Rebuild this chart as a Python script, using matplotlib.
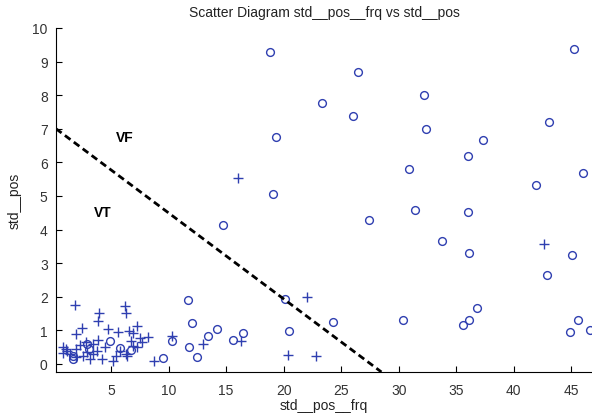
import matplotlib.pyplot as plt

plt.rcParams['font.family'] = ['Liberation Sans', 'DejaVu Sans']

# circles
circ_x = [18.8, 19.3, 45.2, 26.5, 23.3, 26.0, 32.2, 32.4, 37.3, 43.1, 36.0, 30.9, 46.0, 41.9,
          31.4, 36.0, 33.8, 36.1, 45.1, 42.9, 19.1, 27.4, 14.7, 20.1, 24.3, 20.5, 14.2, 16.5,
          15.6, 13.4, 12.5, 11.7, 12.0, 11.8, 10.3, 9.5, 4.9, 2.9, 5.8, 6.7, 3.1, 1.7, 1.7,
          30.4, 35.6, 36.1, 36.8, 44.9, 45.6, 46.6]
circ_y = [9.29, 6.76, 9.38, 8.69, 7.77, 7.38, 8.0, 6.99, 6.67, 7.2, 6.19, 5.80, 5.68, 5.33,
          4.58, 4.52, 3.66, 3.30, 3.24, 2.65, 5.06, 4.29, 4.14, 1.93, 1.25, 0.98, 1.04, 0.92,
          0.71, 0.83, 0.21, 1.90, 1.22, 0.50, 0.68, 0.18, 0.68, 0.60, 0.47, 0.42, 0.45, 0.24, 0.15,
          1.31, 1.16, 1.31, 1.67, 0.95, 1.31, 1.01]

# pluses
plus_x = [16.0, 42.6, 22.0, 20.4, 22.8, 16.3, 13.0, 10.3, 8.7, 1.9, 6.2, 6.3, 4.0, 3.9, 2.5,
          7.3, 4.7, 5.6, 6.6, 6.9, 2.0, 8.2, 7.5, 3.9, 2.8, 6.7, 3.4, 6.9, 4.5, 0.8, 1.2, 1.4,
          2.0, 2.6, 2.9, 3.4, 4.2, 5.4, 6.3, 6.4, 5.2, 5.8, 7.3, 7.7, 0.8, 1.1, 2.0, 2.3, 3.8, 3.2]
plus_y = [5.54, 3.57, 1.99, 0.27, 0.24, 0.68, 0.60, 0.83, 0.09, 1.76, 1.73, 1.52, 1.52, 1.28, 1.07,
          1.13, 1.04, 0.95, 0.98, 0.92, 0.89, 0.80, 0.77, 0.71, 0.65, 0.68, 0.60, 0.54, 0.50, 0.50,
          0.39, 0.30, 0.21, 0.24, 0.36, 0.30, 0.15, 0.24, 0.30, 0.24, 0.09, 0.39, 0.50, 0.65, 0.33,
          0.45, 0.45, 0.57, 0.39, 0.15]

# separating line
line_x = [0.22, 28.5]
line_y = [7.0, -0.24]

xticks = [5, 10, 15, 20, 25, 30, 35, 40, 45]
yticks = list(range(0, 11))

fig = plt.figure(figsize=(5.92, 4.14), dpi=100)
ax = fig.add_axes([56 / 592, 41 / 414, 1 - 56 / 592, (373 - 29) / 414])

blue = '#2f3fb0'
ax.plot(circ_x, circ_y, 'o', mfc='none', mec=blue, ms=5.6, mew=1.0, clip_on=False)
ax.plot(plus_x, plus_y, '+', color=blue, ms=7, mew=1.0, clip_on=False)
ax.plot(line_x, line_y, '--', color='black', lw=2, dashes=(2.5, 1.5))

ax.text(6.2, 6.76, 'VF', fontsize=10, fontweight='bold', ha='center', va='center')
ax.text(4.3, 4.52, 'VT', fontsize=10, fontweight='bold', ha='center', va='center')

ax.set_xlim(0.22, 46.8)
ax.set_ylim(-0.24, 10)
ax.set_xticks(xticks)
ax.set_yticks(yticks)
ax.tick_params(direction='in', length=4, labelsize=10, colors='#333333', pad=6)
ax.tick_params(axis='x', pad=8)
ax.tick_params(axis='both', color='black')
for s in ['top', 'right']:
    ax.spines[s].set_visible(False)
ax.spines['left'].set_bounds(-0.24, 10)

ax.set_title('Scatter Diagram std__pos__frq vs std__pos', fontsize=10, color='#222222', pad=9)
ax.set_xlabel('std__pos__frq', fontsize=10, color='#222222', labelpad=1)
ax.set_ylabel('std__pos', fontsize=10, color='#222222', labelpad=8)

fig.savefig('out.png', dpi=100)
